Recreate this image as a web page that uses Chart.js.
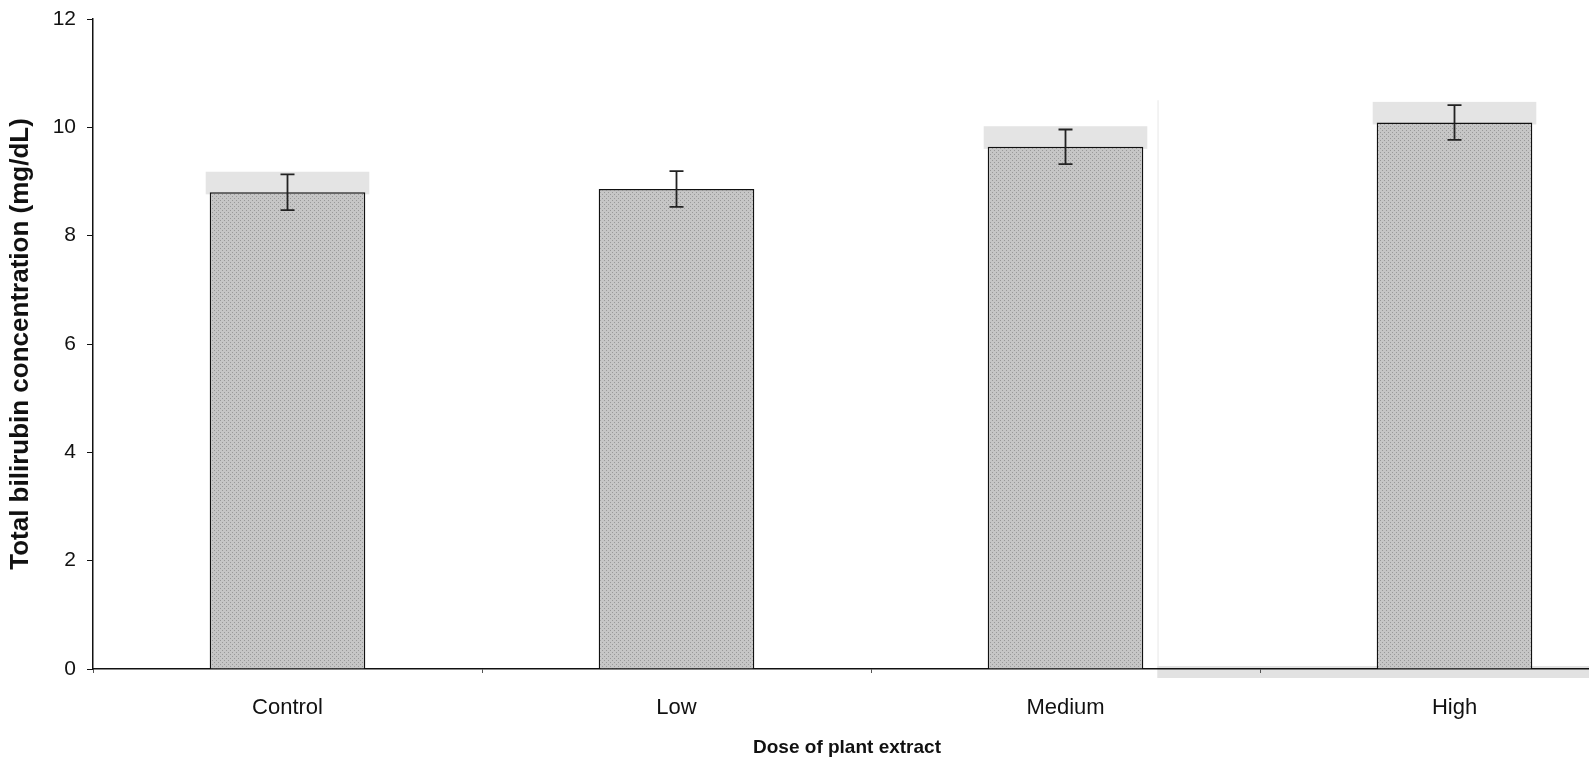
<!DOCTYPE html>
<html lang="en">
<head>
  <meta charset="UTF-8">
  <title>Total bilirubin</title>
  <script src="https://cdn.jsdelivr.net/npm/chart.js"></script>
  <style>
    html, body { margin: 0; padding: 0; background: #fff; overflow: hidden; }
    #wrap { width: 1650px; height: 758px; }
  </style>
</head>
<body>
  <div id="wrap"><canvas id="grafico"></canvas></div>

  <script>
    // datos
    const categorias = ['Control', 'Low', 'Medium', 'High'];
    const valores = [8.80, 8.86, 9.64, 10.09];
    const errores = [0.33, 0.33, 0.32, 0.32];
    // borde superior de la sombra gris del escaneo (null = sin sombra)
    const sombra = [9.18, null, 10.02, 10.47];
    const ticksY = [0, 2, 4, 6, 8, 10, 12];
    const tituloX = 'Dose of plant extract';

    // textura punteada para las barras
    function textura() {
      const c = document.createElement('canvas');
      c.width = 4; c.height = 4;
      const g = c.getContext('2d');
      g.fillStyle = '#c6c6c6';
      g.fillRect(0, 0, 4, 4);
      g.fillStyle = '#999';
      g.fillRect(0, 0, 1, 1);
      g.fillRect(2, 2, 1, 1);
      return g.createPattern(c, 'repeat');
    }

    // se dibuja antes que los ejes para que las lineas queden encima
    const sombraPlugin = {
      id: 'sombra',
      beforeDraw(chart) {
        const ctx = chart.ctx;
        const y = chart.scales.y;
        const area = chart.chartArea;
        const meta = chart.getDatasetMeta(0);
        ctx.save();
        ctx.fillStyle = '#e4e4e4';
        meta.data.forEach((bar, i) => {
          if (sombra[i] == null) return;
          const top = y.getPixelForValue(sombra[i]);
          const half = bar.width / 2 + 4;
          ctx.fillRect(bar.x - half, top, half * 2, bar.y - top + 2);
        });
        // restos del escaneo a la derecha
        const x0 = (meta.data[2].x + meta.data[2].width / 2 + 14);
        const yTop = y.getPixelForValue(10.5);
        ctx.fillStyle = '#efefef';
        ctx.fillRect(x0, yTop, 1.5, area.bottom - yTop);
        ctx.fillStyle = '#e2e2e2';
        ctx.fillRect(x0, area.bottom - 3, chart.width - x0, 12);
        ctx.restore();
      }
    };

    const errorPlugin = {
      id: 'errores',
      afterDatasetsDraw(chart) {
        const ctx = chart.ctx;
        const y = chart.scales.y;
        const meta = chart.getDatasetMeta(0);
        ctx.save();
        ctx.strokeStyle = '#222';
        ctx.lineWidth = 1.8;
        meta.data.forEach((bar, i) => {
          const alto = y.getPixelForValue(valores[i] + errores[i]);
          const bajo = y.getPixelForValue(valores[i] - errores[i]);
          ctx.beginPath();
          ctx.moveTo(bar.x, alto); ctx.lineTo(bar.x, bajo);
          ctx.moveTo(bar.x - 7, alto); ctx.lineTo(bar.x + 7, alto);
          ctx.moveTo(bar.x - 7, bajo); ctx.lineTo(bar.x + 7, bajo);
          ctx.stroke();
        });
        ctx.restore();
      }
    };

    // titulo del eje x, algo a la izquierda del centro como en la figura
    const tituloPlugin = {
      id: 'tituloX',
      afterDraw(chart) {
        const ctx = chart.ctx;
        ctx.save();
        ctx.font = 'bold 19px "Liberation Sans"';
        ctx.fillStyle = '#111';
        ctx.textAlign = 'center';
        ctx.textBaseline = 'middle';
        ctx.fillText(tituloX, chart.chartArea.left + 754, chart.chartArea.bottom + 79);
        ctx.restore();
      }
    };

    const ctx = document.getElementById('grafico').getContext('2d');
    new Chart(ctx, {
      type: 'bar',
      data: {
        labels: categorias,
        datasets: [{
          data: valores,
          backgroundColor: textura(),
          borderColor: '#111',
          borderWidth: 1.5,
          barPercentage: 0.4,
          categoryPercentage: 1
        }]
      },
      options: {
        responsive: true,
        maintainAspectRatio: false,
        animation: false,
        layout: { padding: { top: 19, right: 1, left: 0, bottom: 0 } },
        plugins: {
          legend: { display: false },
          tooltip: { enabled: false }
        },
        scales: {
          x: {
            offset: true,
            grid: { display: true, drawOnChartArea: false, offset: true, tickLength: 4, color: '#555' },
            border: { color: '#111', width: 1.5 },
            ticks: { color: '#111', padding: 22, font: { family: 'Liberation Sans', size: 22 } },
            afterFit(scale) { scale.height = 89; scale.paddingLeft = 0; scale.paddingRight = 0; }
          },
          y: {
            min: 0,
            max: 12,
            afterBuildTicks(scale) { scale.ticks = ticksY.map(v => ({ value: v })); },
            grid: { display: true, drawOnChartArea: false, tickLength: 6, color: '#111' },
            border: { color: '#111', width: 1.5 },
            ticks: { color: '#111', padding: 11, font: { family: 'Liberation Sans', size: 21 } },
            title: {
              display: true,
              text: 'Total bilirubin concentration (mg/dL)',
              color: '#111',
              padding: { top: 5, bottom: 0 },
              font: { family: 'Liberation Sans', size: 26, weight: 'bold' }
            },
            afterFit(scale) { scale.width = 93; scale.paddingTop = 0; scale.paddingBottom = 0; }
          }
        }
      },
      plugins: [sombraPlugin, errorPlugin, tituloPlugin]
    });
  </script>
</body>
</html>
